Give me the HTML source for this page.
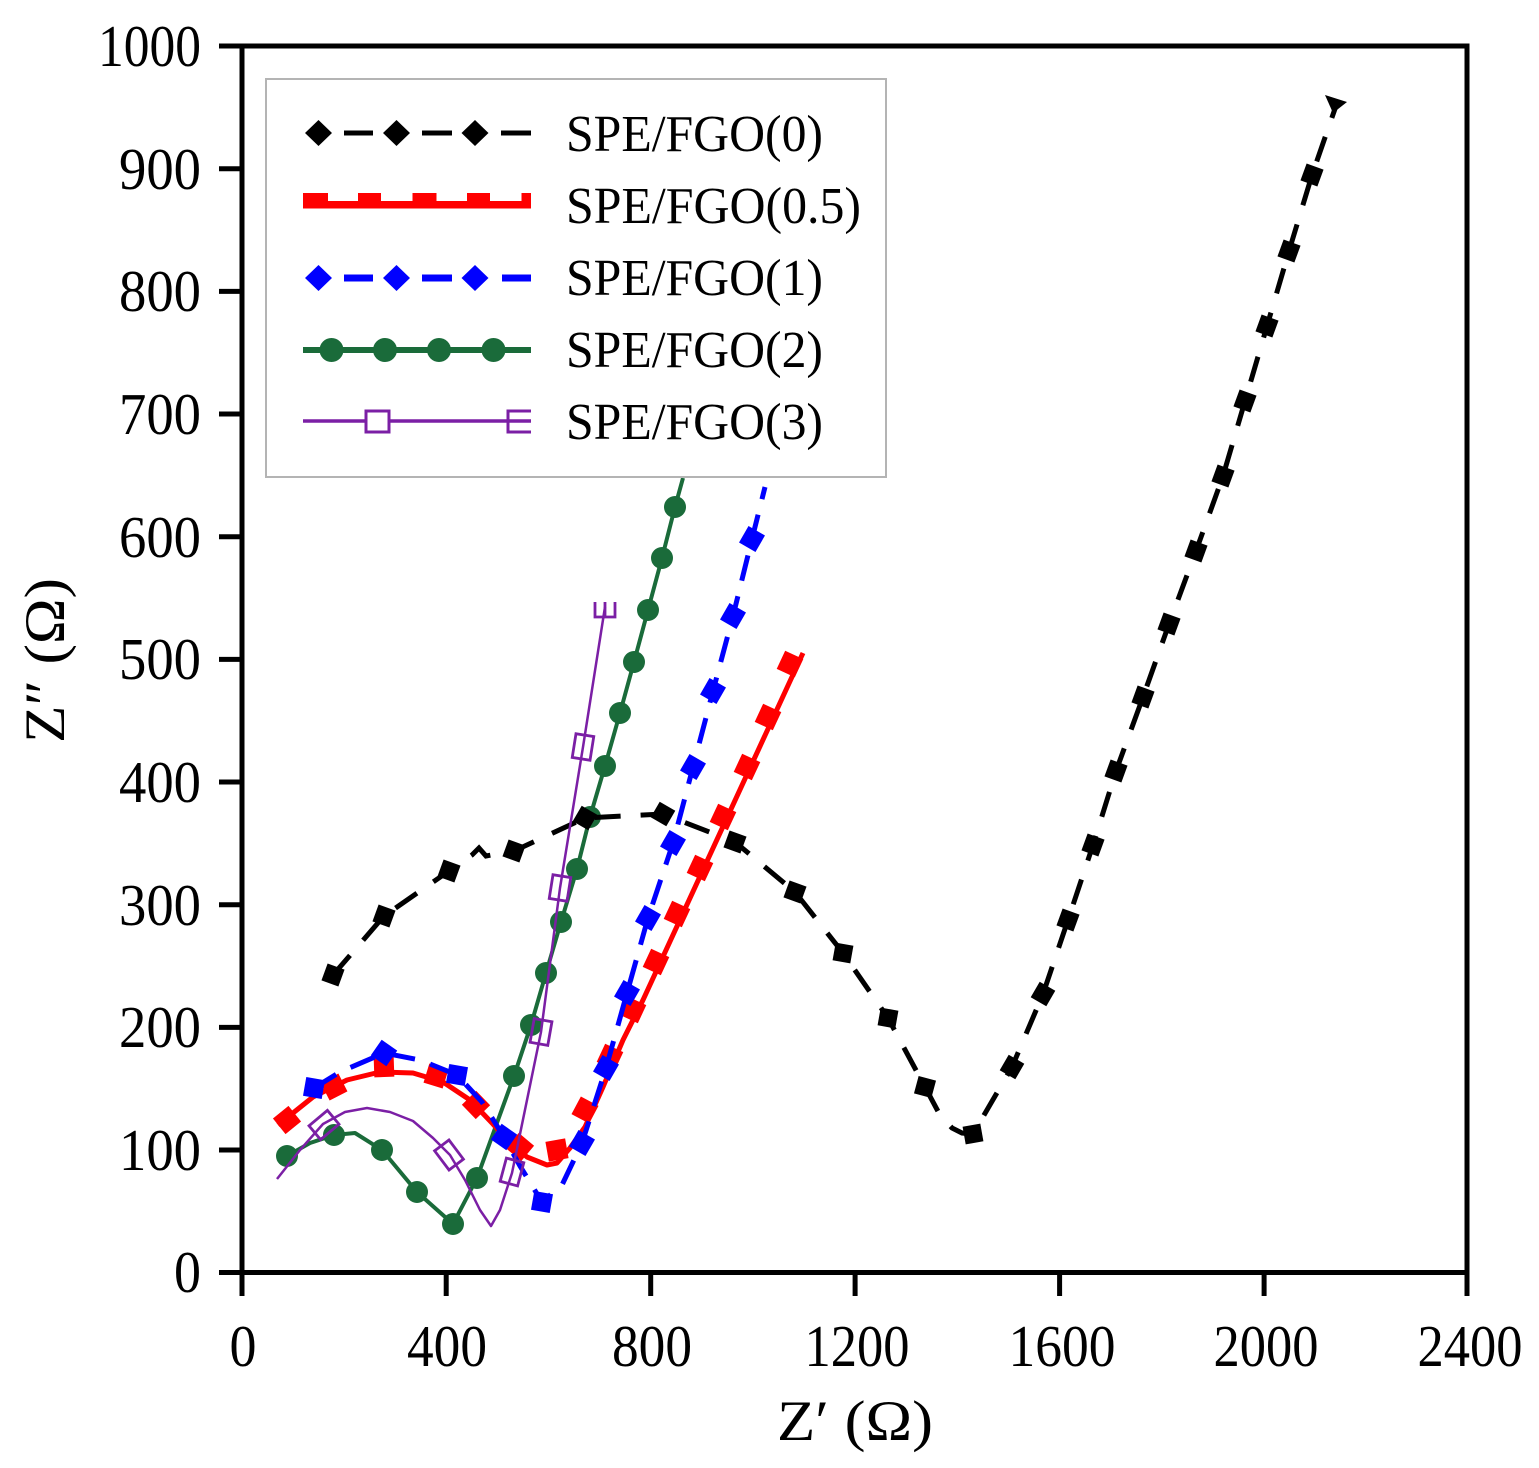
<!DOCTYPE html>
<html>
<head>
<meta charset="utf-8">
<style>
html,body{margin:0;padding:0;background:#fff;}
svg{display:block;}
text{font-family:"Liberation Serif","DejaVu Serif",serif;fill:#000;}
</style>
</head>
<body>
<svg width="1539" height="1468" viewBox="0 0 1539 1468" xmlns="http://www.w3.org/2000/svg">
<rect x="0" y="0" width="1539" height="1468" fill="#fff"/>

<!-- Y ticks -->
<g stroke="#000" stroke-width="5">
<line x1="219" y1="1272.5" x2="242" y2="1272.5"/>
<line x1="219" y1="1150" x2="242" y2="1150"/>
<line x1="219" y1="1027.4" x2="242" y2="1027.4"/>
<line x1="219" y1="904.7" x2="242" y2="904.7"/>
<line x1="219" y1="782" x2="242" y2="782"/>
<line x1="219" y1="659.4" x2="242" y2="659.4"/>
<line x1="219" y1="536.7" x2="242" y2="536.7"/>
<line x1="219" y1="414" x2="242" y2="414"/>
<line x1="219" y1="291.4" x2="242" y2="291.4"/>
<line x1="219" y1="168.7" x2="242" y2="168.7"/>
<line x1="219" y1="46" x2="242" y2="46"/>
<!-- X ticks -->
<line x1="242" y1="1272" x2="242" y2="1296"/>
<line x1="446.2" y1="1272" x2="446.2" y2="1296"/>
<line x1="650.7" y1="1272" x2="650.7" y2="1296"/>
<line x1="855.1" y1="1272" x2="855.1" y2="1296"/>
<line x1="1059.6" y1="1272" x2="1059.6" y2="1296"/>
<line x1="1264.1" y1="1272" x2="1264.1" y2="1296"/>
<line x1="1467" y1="1272" x2="1467" y2="1296"/>
</g>

<!-- Y tick labels -->
<g font-size="59" text-anchor="end">
<text x="201" y="1292" textLength="27" lengthAdjust="spacingAndGlyphs">0</text>
<text x="201" y="1170" textLength="82" lengthAdjust="spacingAndGlyphs">100</text>
<text x="201" y="1047" textLength="82" lengthAdjust="spacingAndGlyphs">200</text>
<text x="201" y="925" textLength="82" lengthAdjust="spacingAndGlyphs">300</text>
<text x="201" y="802" textLength="82" lengthAdjust="spacingAndGlyphs">400</text>
<text x="201" y="679" textLength="82" lengthAdjust="spacingAndGlyphs">500</text>
<text x="201" y="557" textLength="82" lengthAdjust="spacingAndGlyphs">600</text>
<text x="201" y="434" textLength="82" lengthAdjust="spacingAndGlyphs">700</text>
<text x="201" y="311" textLength="82" lengthAdjust="spacingAndGlyphs">800</text>
<text x="201" y="189" textLength="82" lengthAdjust="spacingAndGlyphs">900</text>
<text x="201" y="66" textLength="103" lengthAdjust="spacingAndGlyphs">1000</text>
</g>

<!-- X tick labels -->
<g font-size="59" text-anchor="middle">
<text x="243" y="1366" textLength="27" lengthAdjust="spacingAndGlyphs">0</text>
<text x="447" y="1366" textLength="80" lengthAdjust="spacingAndGlyphs">400</text>
<text x="652" y="1366" textLength="80" lengthAdjust="spacingAndGlyphs">800</text>
<text x="857" y="1366" textLength="105" lengthAdjust="spacingAndGlyphs">1200</text>
<text x="1062" y="1366" textLength="107" lengthAdjust="spacingAndGlyphs">1600</text>
<text x="1266" y="1366" textLength="105" lengthAdjust="spacingAndGlyphs">2000</text>
<text x="1470" y="1366" textLength="105" lengthAdjust="spacingAndGlyphs">2400</text>
</g>

<!-- Axis titles -->
<text x="777" y="1440" font-size="57" textLength="156" lengthAdjust="spacingAndGlyphs">Z′ (Ω)</text>
<text transform="translate(64,743) rotate(-90)" font-size="57" textLength="165" lengthAdjust="spacingAndGlyphs">Z″ (Ω)</text>

<!-- Green series -->
<polyline fill="none" stroke="#1a6b3a" stroke-width="4" stroke-linejoin="round"
 points="287,1156 310,1143 334,1135 355,1133 382,1150 417,1192 453,1224 477,1178 514,1076 531,1025 546,973 561,922 577,869 590,817 605,766 620,713 634,662 648,610 662,558 675,507 683,478"/>
<g fill="#1a6b3a">
<circle cx="287" cy="1156" r="11"/><circle cx="334" cy="1135" r="11"/><circle cx="382" cy="1150" r="11"/>
<circle cx="417" cy="1192" r="11"/><circle cx="453" cy="1224" r="11"/><circle cx="477" cy="1178" r="11"/>
<circle cx="514" cy="1076" r="11"/><circle cx="531" cy="1025" r="11"/><circle cx="546" cy="973" r="11"/>
<circle cx="561" cy="922" r="11"/><circle cx="577" cy="869" r="11"/><circle cx="590" cy="817" r="11"/>
<circle cx="605" cy="766" r="11"/><circle cx="620" cy="713" r="11"/><circle cx="634" cy="662" r="11"/>
<circle cx="648" cy="610" r="11"/><circle cx="662" cy="558" r="11"/><circle cx="675" cy="507" r="11"/>
</g>

<!-- Black series -->
<polyline fill="none" stroke="#000" stroke-width="5" stroke-dasharray="26 20"
 points="333,975 384,916 449,871 472,855 479,848 486,856 514,851 585,818 663,814 735,842 795,892 843,953 888,1018 925,1087 940,1115 952,1128 962,1133 973,1134 1012,1067 1043,994 1068,920 1093,845 1116,771 1143,697 1169,624 1196,551 1223,476 1245,401 1267,326 1289,251 1312,175 1337,103"/>
<g fill="#000">
<rect x="-9" y="-9" width="18" height="18" transform="translate(333,975) rotate(20)"/>
<rect x="-9" y="-9" width="18" height="18" transform="translate(384,916) rotate(20)"/>
<rect x="-9" y="-9" width="18" height="18" transform="translate(449,871) rotate(20)"/>
<rect x="-9" y="-9" width="18" height="18" transform="translate(514,851) rotate(20)"/>
<rect x="-9" y="-9" width="18" height="18" transform="translate(585,818) rotate(30)"/>
<rect x="-9" y="-9" width="18" height="18" transform="translate(663,814) rotate(30)"/>
<rect x="-9" y="-9" width="18" height="18" transform="translate(735,842) rotate(20)"/>
<rect x="-9" y="-9" width="18" height="18" transform="translate(795,892) rotate(20)"/>
<rect x="-9" y="-9" width="18" height="18" transform="translate(843,953) rotate(10)"/>
<rect x="-9" y="-9" width="18" height="18" transform="translate(888,1018) rotate(10)"/>
<rect x="-9" y="-9" width="18" height="18" transform="translate(925,1087) rotate(15)"/>
<rect x="-9" y="-9" width="18" height="18" transform="translate(973,1134) rotate(-10)"/>
<rect x="-9" y="-9" width="18" height="18" transform="translate(1012,1067) rotate(30)"/>
<rect x="-9" y="-9" width="18" height="18" transform="translate(1043,994) rotate(30)"/>
<rect x="-9" y="-9" width="18" height="18" transform="translate(1068,920) rotate(20)"/>
<rect x="-9" y="-9" width="18" height="18" transform="translate(1093,845) rotate(20)"/>
<rect x="-9" y="-9" width="18" height="18" transform="translate(1116,771) rotate(20)"/>
<rect x="-9" y="-9" width="18" height="18" transform="translate(1143,697) rotate(20)"/>
<rect x="-9" y="-9" width="18" height="18" transform="translate(1169,624) rotate(20)"/>
<rect x="-9" y="-9" width="18" height="18" transform="translate(1196,551) rotate(20)"/>
<rect x="-9" y="-9" width="18" height="18" transform="translate(1223,476) rotate(20)"/>
<rect x="-9" y="-9" width="18" height="18" transform="translate(1245,401) rotate(20)"/>
<rect x="-9" y="-9" width="18" height="18" transform="translate(1267,326) rotate(20)"/>
<rect x="-9" y="-9" width="18" height="18" transform="translate(1289,251) rotate(20)"/>
<rect x="-9" y="-9" width="18" height="18" transform="translate(1312,175) rotate(20)"/>
<polygon points="1325,95 1347,102 1333,113"/>
</g>

<!-- Red series -->
<polyline fill="none" stroke="#ff0000" stroke-width="5" stroke-linejoin="round"
 points="278,1125 313,1097 347,1080 380,1072 413,1073 443,1082 470,1100 492,1123 507,1140 527,1157 547,1165 557,1163 570,1148 585,1127 603,1087 623,1040 643,1000 803,653"/>
<g fill="#ff0000">
<rect x="-10" y="-10" width="20" height="20" transform="translate(287,1120) rotate(-39)"/>
<rect x="-10" y="-10" width="20" height="20" transform="translate(334,1087) rotate(-27)"/>
<rect x="-10" y="-10" width="20" height="20" transform="translate(384,1067) rotate(-2)"/>
<rect x="-10" y="-10" width="20" height="20" transform="translate(436,1076) rotate(17)"/>
<rect x="-10" y="-10" width="20" height="20" transform="translate(476,1105) rotate(46)"/>
<rect x="-10" y="-10" width="20" height="20" transform="translate(520,1147) rotate(40)"/>
<rect x="-10" y="-10" width="20" height="20" transform="translate(557,1150) rotate(-10)"/>
<rect x="-10" y="-10" width="20" height="20" transform="translate(585,1110) rotate(-62)"/>
<rect x="-10" y="-10" width="20" height="20" transform="translate(610,1057) rotate(-65)"/>
<rect x="-10" y="-10" width="20" height="20" transform="translate(633,1010) rotate(-65)"/>
<rect x="-10" y="-10" width="20" height="20" transform="translate(656,962) rotate(-65)"/>
<rect x="-10" y="-10" width="20" height="20" transform="translate(677,914) rotate(-65)"/>
<rect x="-10" y="-10" width="20" height="20" transform="translate(700,868) rotate(-65)"/>
<rect x="-10" y="-10" width="20" height="20" transform="translate(723,817) rotate(-65)"/>
<rect x="-10" y="-10" width="20" height="20" transform="translate(747,767) rotate(-65)"/>
<rect x="-10" y="-10" width="20" height="20" transform="translate(768,717) rotate(-65)"/>
<rect x="-10" y="-10" width="20" height="20" transform="translate(790,664) rotate(-65)"/>
</g>

<!-- Blue series -->
<polyline fill="none" stroke="#0000ff" stroke-width="5" stroke-dasharray="26 16"
 points="314,1088 340,1072 384,1053 420,1060 457,1075 482,1102 504,1137 520,1166 542,1202 562,1185 582,1143 606,1068 627,993 648,918 673,843 693,767 713,691 733,616 752,539 765,487"/>
<g fill="#0000ff">
<rect x="-9.5" y="-9.5" width="19" height="19" transform="translate(314,1088) rotate(10)"/>
<rect x="-9.5" y="-9.5" width="19" height="19" transform="translate(384,1053) rotate(35)"/>
<rect x="-9.5" y="-9.5" width="19" height="19" transform="translate(457,1075) rotate(10)"/>
<rect x="-9.5" y="-9.5" width="19" height="19" transform="translate(504,1137) rotate(35)"/>
<rect x="-9.5" y="-9.5" width="19" height="19" transform="translate(542,1202) rotate(10)"/>
<rect x="-9.5" y="-9.5" width="19" height="19" transform="translate(582,1143) rotate(30)"/>
<rect x="-9.5" y="-9.5" width="19" height="19" transform="translate(606,1068) rotate(30)"/>
<rect x="-9.5" y="-9.5" width="19" height="19" transform="translate(627,993) rotate(30)"/>
<rect x="-9.5" y="-9.5" width="19" height="19" transform="translate(648,918) rotate(30)"/>
<rect x="-9.5" y="-9.5" width="19" height="19" transform="translate(673,843) rotate(30)"/>
<rect x="-9.5" y="-9.5" width="19" height="19" transform="translate(693,767) rotate(30)"/>
<rect x="-9.5" y="-9.5" width="19" height="19" transform="translate(713,691) rotate(30)"/>
<rect x="-9.5" y="-9.5" width="19" height="19" transform="translate(733,616) rotate(30)"/>
<rect x="-9.5" y="-9.5" width="19" height="19" transform="translate(752,539) rotate(30)"/>
</g>

<!-- Purple series -->
<polyline fill="none" stroke="#7b1fa5" stroke-width="2.5" stroke-linejoin="round"
 points="277,1179 300,1150 323,1124 345,1112 367,1108 390,1112 413,1121 433,1138 450,1155 465,1180 480,1210 491,1226 500,1210 512,1173 541,1032 560,888 583,747 605,607"/>
<g fill="none" stroke="#7b1fa5" stroke-width="2.8">
<rect x="-12" y="-9" width="24" height="18" transform="translate(324,1125) rotate(-40)"/>
<rect x="-12" y="-9" width="24" height="18" transform="translate(449,1155) rotate(53)"/>
<rect x="-12" y="-9" width="24" height="18" transform="translate(512,1172) rotate(-75)"/>
<rect x="-12" y="-9" width="24" height="18" transform="translate(541,1032) rotate(-80)"/>
<rect x="-12" y="-9" width="24" height="18" transform="translate(560,888) rotate(-81)"/>
<rect x="-12" y="-9" width="24" height="18" transform="translate(583,747) rotate(-81)"/>
<path d="M595,602 L595,617 L615,617 L615,602 M605,602 L605,617"/>
</g>

<!-- Frame -->
<rect x="242" y="46" width="1225" height="1226.5" fill="none" stroke="#000" stroke-width="5"/>

<!-- Legend -->
<rect x="266" y="79" width="620" height="398" fill="#fff" stroke="#b4b4b4" stroke-width="2"/>
<!-- row 1 -->
<g fill="#000">
<polygon points="318.5,120 332,133 318.5,146 305,133"/>
<polygon points="396.5,120 410,133 396.5,146 383,133"/>
<polygon points="475,120 488.5,133 475,146 461.5,133"/>
<rect x="344" y="130.5" width="29" height="5"/>
<rect x="422" y="130.5" width="30" height="5"/>
<rect x="501" y="130.5" width="30" height="5"/>
</g>
<!-- row 2 -->
<g fill="#ff0000">
<rect x="303" y="201" width="228" height="7.5"/>
<rect x="303" y="193" width="25" height="9"/>
<rect x="358" y="193" width="23" height="9"/>
<rect x="412.5" y="193" width="24" height="9"/>
<rect x="467" y="193" width="23" height="9"/>
<rect x="521.5" y="193" width="9.5" height="9"/>
</g>
<!-- row 3 -->
<g fill="#0000ff">
<polygon points="318.5,265 332,278 318.5,291 305,278"/>
<polygon points="396.5,265 410,278 396.5,291 383,278"/>
<polygon points="475,265 488.5,278 475,291 461.5,278"/>
<rect x="344" y="274.5" width="29" height="7"/>
<rect x="422" y="274.5" width="30" height="7"/>
<rect x="502" y="274.5" width="29" height="7"/>
</g>
<!-- row 4 -->
<g fill="#1a6b3a">
<rect x="303" y="347" width="228" height="6"/>
<circle cx="331.5" cy="350" r="12"/>
<circle cx="385" cy="350" r="12"/>
<circle cx="439" cy="350" r="12"/>
<circle cx="493.5" cy="350" r="12"/>
</g>
<!-- row 5 -->
<line x1="303" y1="421" x2="531" y2="421" stroke="#7b1fa5" stroke-width="3.5"/>
<g fill="#fff" stroke="#7b1fa5" stroke-width="3">
<rect x="366" y="411" width="23" height="21"/>
<path d="M531,411 L508,411 L508,432 L531,432" fill="none"/>
</g>
<g font-size="52">
<text x="566" y="151" textLength="257" lengthAdjust="spacingAndGlyphs">SPE/FGO(0)</text>
<text x="566" y="223" textLength="295" lengthAdjust="spacingAndGlyphs">SPE/FGO(0.5)</text>
<text x="566" y="295" textLength="257" lengthAdjust="spacingAndGlyphs">SPE/FGO(1)</text>
<text x="566" y="367" textLength="257" lengthAdjust="spacingAndGlyphs">SPE/FGO(2)</text>
<text x="566" y="439" textLength="257" lengthAdjust="spacingAndGlyphs">SPE/FGO(3)</text>
</g>
</svg>
</body>
</html>
